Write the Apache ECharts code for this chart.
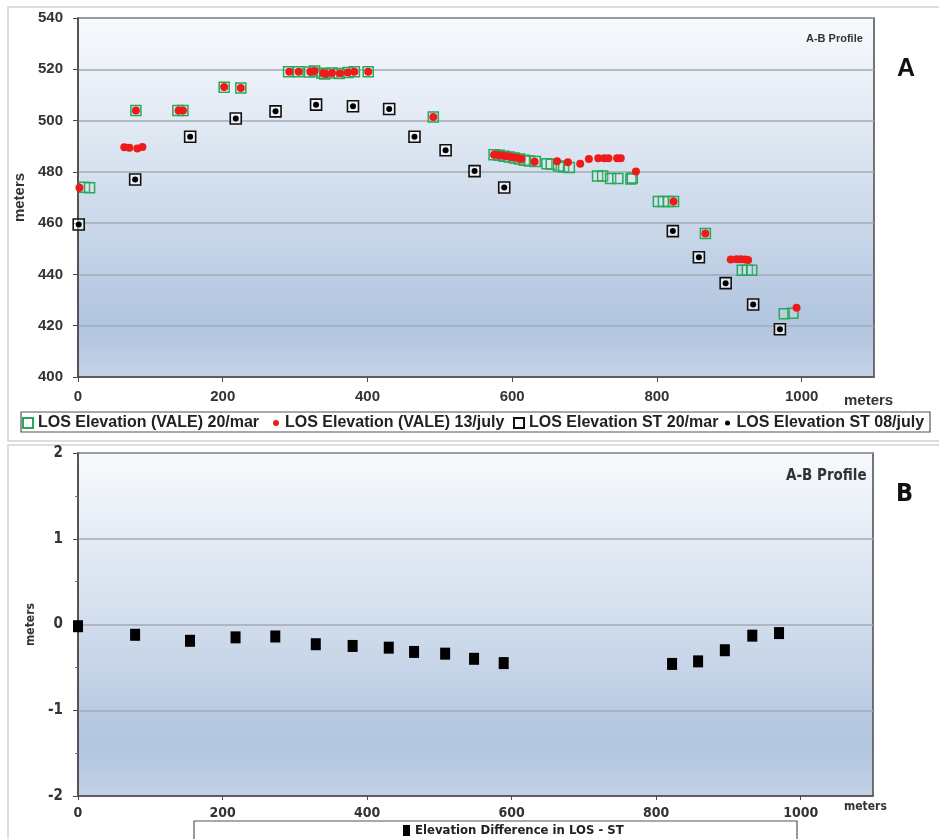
<!DOCTYPE html>
<html>
<head>
<meta charset="utf-8">
<script src="https://cdn.jsdelivr.net/npm/echarts@6/dist/echarts.min.js"></script>
<style>
html,body{margin:0;padding:0;background:#fff;}
#chart{width:939px;height:839px;}
</style>
</head>
<body>
<div id="chart"></div>
<script>
// ---------- DATA ----------
const topXTicks = [0, 200, 400, 600, 800, 1000];
const topYTicks = [400, 420, 440, 460, 480, 500, 520, 540];
const botYTicks = [-2, -1, 0, 1, 2];

const seriesNames = [
  'LOS Elevation (VALE) 20/mar',
  'LOS Elevation (VALE) 13/july',
  'LOS Elevation ST 20/mar',
  'LOS Elevation ST 08/july'
];
const diffName = 'Elevation Difference in LOS - ST';

// LOS Elevation (VALE) 20/mar  (green hollow squares)
const valeMarX = [9,16,80,138,145,202,225,291,304,320,327,337,341,351,361,373,382,401,491,
  575,582,589,596,603,610,617,624,632,648,654,664,671,679,718,725,736,746,764,766,
  802,809,816,823,867,918,925,931,976,988];
const valeMarY = [474,473.8,503.9,503.9,503.9,513,512.7,519,519,518.9,519.3,518.5,518.2,518.6,518.4,518.7,519,519,501.4,
  486.7,486.5,486.1,485.8,485.4,485,484.5,484.2,484,483.2,483,482.3,481.9,481.7,478.4,478.4,477.4,477.4,477.2,477.6,
  468.4,468.4,468.4,468.4,456,441.6,441.6,441.6,424.7,424.9];

// LOS Elevation (VALE) 13/july (red dots)
const valeJulX = [2,64,71,82,89,80,139,145,202,225,292,305,321,327,339,342,351,362,373,382,401,491,
  575,580,585,590,595,599,604,609,613,631,662,677,694,706,719,727,733,745,750,771,
  823,867,902,910,916,922,926,993];
const valeJulY = [473.8,489.6,489.4,489.1,489.7,503.9,503.9,503.9,513.1,512.7,519,519,519,519.3,518.5,518.2,518.6,518.4,518.7,519,519,501.4,
  486.7,486.6,486.4,486.2,486.1,485.8,485.6,485.3,485,483.9,484.1,483.7,483.2,485,485.3,485.3,485.3,485.3,485.3,480.1,
  468.4,456,445.8,445.9,445.9,445.8,445.6,427];

// LOS Elevation ST 20/mar and ST 08/july (black squares / black dots)
const stX = [1,79,155,218,273,329,380,430,465,508,548,589,822,858,895,933,970];
const stMarY = [459.5,477,493.7,500.8,503.6,506.2,505.6,504.5,493.7,488.4,480.3,473.9,456.9,446.7,436.6,428.3,418.6];
const stJulY = [459.5,477,493.7,500.8,503.6,506.2,505.6,504.5,493.7,488.4,480.3,473.9,456.9,446.7,436.6,428.3,418.6];

// Elevation Difference in LOS - ST (panel B)
const diffX = [0,79,155,218,273,329,380,430,465,508,548,589,822,858,895,933,970];
const diffY = [-0.02,-0.12,-0.19,-0.15,-0.14,-0.23,-0.25,-0.27,-0.32,-0.34,-0.40,-0.45,-0.46,-0.43,-0.30,-0.13,-0.10];

const zip = (xs, ys) => xs.map((x, i) => [x, ys[i]]);

// ---------- STYLE ----------
const F = "'Liberation Sans', Arial, sans-serif";
const FN = "'Liberation Sans Narrow', 'DejaVu Sans Condensed', 'Liberation Sans', sans-serif";
const bgGrad = (stops) => ({type:'linear', x:0, y:0, x2:0, y2:1, colorStops: stops});
const plotBg = bgGrad([
  {offset:0, color:'#f8fafd'},
  {offset:0.45, color:'#d5e0ee'},
  {offset:0.85, color:'#b1c5df'},
  {offset:1, color:'#c3d2e7'}
]);

const chart = echarts.init(document.getElementById('chart'));

const legendBase = {
  orient:'horizontal', top: 410, itemGap: 5, selectedMode:false,
  textStyle:{fontFamily:F, fontSize:16, fontWeight:'bold', color:'#222', padding:[0,0,0,0]}
};

const option = {
  animation:false,
  backgroundColor:'#ffffff',
  graphic:[
    {type:'rect', z:-10, shape:{x:8, y:7, width:940, height:434}, style:{fill:'#fff', stroke:'#d4d4d4', lineWidth:1.5}},
    {type:'rect', z:-10, shape:{x:8, y:445, width:940, height:400}, style:{fill:'#fff', stroke:'#d4d4d4', lineWidth:1.5}},
    {type:'rect', z:-5, shape:{x:21, y:412, width:909, height:20}, style:{fill:'#fff', stroke:'#555', lineWidth:1.2}},
    {type:'rect', z:-5, shape:{x:194, y:821, width:603, height:30}, style:{fill:'#fff', stroke:'#555', lineWidth:1.2}},
    {type:'text', left:806, top:33, style:{text:'A-B Profile', font:"bold 11px "+F, fill:'#333'}},
    {type:'text', left:897, top:57, style:{text:'A', font:"bold 25px "+F, fill:'#111'}},
    {type:'text', left:844, top:393, style:{text:'meters', font:"bold 15px "+F, fill:'#333'}},
    {type:'text', left:786, top:469, style:{text:'A-B Profile', font:"bold 15px "+FN, fill:'#333'}},
    {type:'text', left:896, top:482, style:{text:'B', font:"bold 25px "+FN, fill:'#111'}},
    {type:'text', left:844, top:801, style:{text:'meters', font:"bold 12px "+FN, fill:'#333'}}
  ],
  legend:[
    Object.assign({}, legendBase, {left:17, data:[seriesNames[0]], itemWidth:10, itemHeight:10}),
    Object.assign({}, legendBase, {left:268, data:[seriesNames[1]], itemWidth:8, itemHeight:6}),
    Object.assign({}, legendBase, {left:508, data:[seriesNames[2]], itemWidth:10, itemHeight:10}),
    Object.assign({}, legendBase, {left:720, data:[seriesNames[3]], itemWidth:8, itemHeight:5}),
    {left:398, top:819, itemGap:5, selectedMode:false, data:[diffName], itemWidth:7, itemHeight:11,
     textStyle:{fontFamily:FN, fontSize:13, fontWeight:'bold', color:'#222'}}
  ],
  grid:[
    {left:78, right:65, top:18, height:359, show:true, backgroundColor:plotBg, borderColor:'#4a4a4a', borderWidth:1.5},
    {left:78, right:66, top:453, height:343, show:true, backgroundColor:plotBg, borderColor:'#4a4a4a', borderWidth:1.5}
  ],
  xAxis:[
    {gridIndex:0, type:'value', min:0, max:1100, interval:200,
     axisLine:{show:true, lineStyle:{color:'#4a4a4a', width:1.5}},
     axisTick:{show:true, length:5, lineStyle:{color:'#4a4a4a'}},
     splitLine:{show:false},
     axisLabel:{showMaxLabel:false, margin:12, fontFamily:F, fontSize:15, fontWeight:'bold', color:'#333',
       formatter:(v)=> topXTicks.indexOf(v) >= 0 ? String(v) : ''}},
    {gridIndex:1, type:'value', min:0, max:1100, interval:200,
     axisLine:{show:true, onZero:false, lineStyle:{color:'#4a4a4a', width:1.5}},
     axisTick:{show:true, length:4, lineStyle:{color:'#4a4a4a'}},
     splitLine:{show:false},
     axisLabel:{showMaxLabel:false, margin:10, fontFamily:FN, fontSize:14, fontWeight:'bold', color:'#333',
       formatter:(v)=> topXTicks.indexOf(v) >= 0 ? String(v) : ''}}
  ],
  yAxis:[
    {gridIndex:0, type:'value', min:400, max:540, interval:20,
     name:'meters', nameLocation:'middle', nameGap:40,
     nameTextStyle:{fontFamily:F, fontSize:15, fontWeight:'bold', color:'#333'},
     axisLine:{show:true, lineStyle:{color:'#4a4a4a', width:1.5}},
     axisTick:{show:true, length:5, lineStyle:{color:'#4a4a4a'}},
     splitLine:{show:true, lineStyle:{color:'#a2aab4', width:1.5}},
     axisLabel:{margin:15, fontFamily:F, fontSize:15, fontWeight:'bold', color:'#333',
       formatter:(v)=> topYTicks.indexOf(v) >= 0 ? String(v) : ''}},
    {gridIndex:1, type:'value', min:-2, max:2, interval:1,
     name:'meters', nameLocation:'middle', nameGap:27,
     nameTextStyle:{fontFamily:FN, fontSize:12, fontWeight:'bold', color:'#333'},
     axisLine:{show:true, lineStyle:{color:'#4a4a4a', width:1.5}},
     axisTick:{show:true, length:5, lineStyle:{color:'#4a4a4a'}},
     minorTick:{show:true, splitNumber:2, length:3, lineStyle:{color:'#777'}},
     splitLine:{show:true, lineStyle:{color:'#a2aab4', width:1.5}},
     axisLabel:{margin:15, fontFamily:FN, fontSize:15, fontWeight:'bold', color:'#333',
       formatter:(v)=> botYTicks.indexOf(v) >= 0 ? String(v) : ''}}
  ],
  series:[
    {name:seriesNames[0], type:'scatter', xAxisIndex:0, yAxisIndex:0, symbol:'rect', symbolSize:10,
     itemStyle:{color:'rgba(255,255,255,0.12)', borderColor:'#27a85a', borderWidth:1.5, opacity:1},
     data:zip(valeMarX, valeMarY), z:2},
    {name:seriesNames[1], type:'scatter', xAxisIndex:0, yAxisIndex:0, symbol:'circle', symbolSize:8,
     itemStyle:{color:'#ee1b1b', opacity:1},
     data:zip(valeJulX, valeJulY), z:3},
    {name:seriesNames[2], type:'scatter', xAxisIndex:0, yAxisIndex:0, symbol:'rect', symbolSize:11,
     itemStyle:{color:'rgba(255,255,255,0.55)', borderColor:'#111', borderWidth:1.6, opacity:1},
     data:zip(stX, stMarY), z:4},
    {name:seriesNames[3], type:'scatter', xAxisIndex:0, yAxisIndex:0, symbol:'circle', symbolSize:6,
     itemStyle:{color:'#000', opacity:1},
     data:zip(stX, stJulY), z:5},
    {name:diffName, type:'scatter', xAxisIndex:1, yAxisIndex:1, symbol:'rect', symbolSize:[10,12],
     itemStyle:{color:'#000', opacity:1},
     data:zip(diffX, diffY), z:5}
  ]
};
chart.setOption(option);
</script>
</body>
</html>
